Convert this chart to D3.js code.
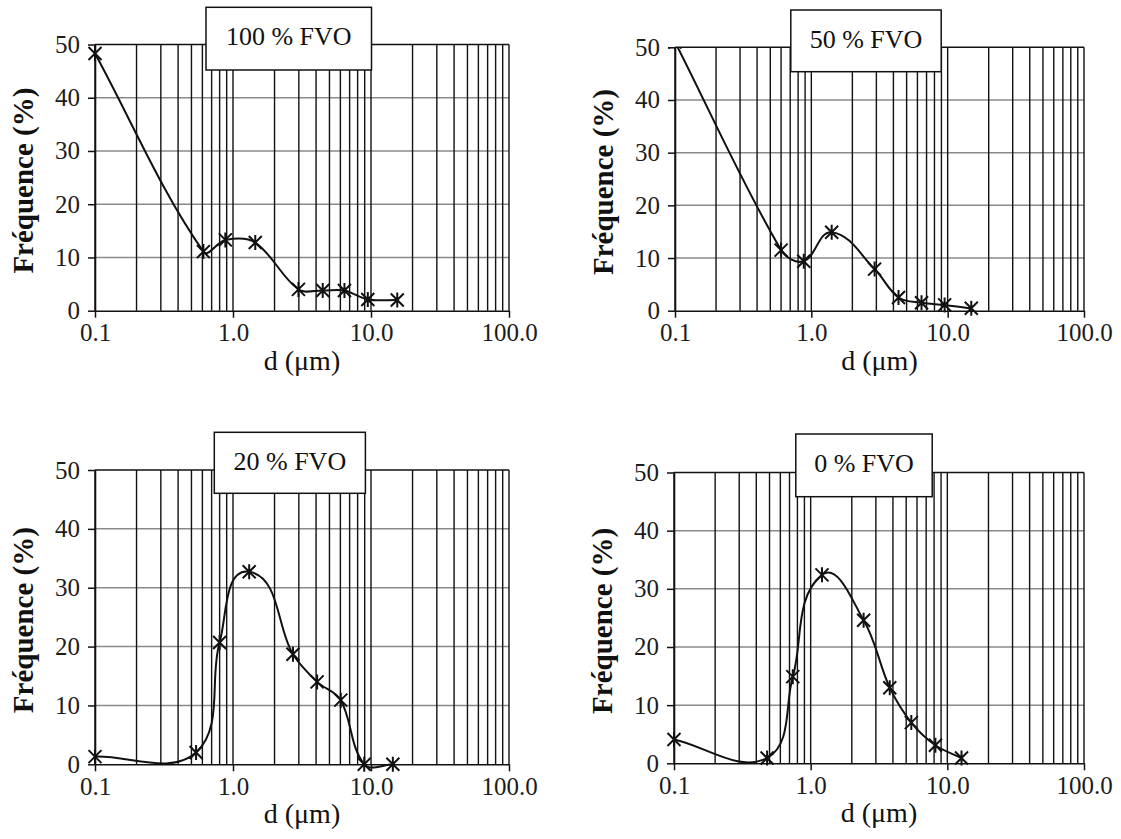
<!DOCTYPE html>
<html>
<head>
<meta charset="utf-8">
<script src="https://cdn.jsdelivr.net/npm/d3@7"></script>
<style>
  html, body { margin: 0; padding: 0; background: #fff; }
  svg { display: block; }
</style>
</head>
<body>
<svg id="chart" width="1121" height="839"></svg>
<script>
// particle size classes (µm) and frequencies (%)
const d100 = [0.1, 0.61, 0.88, 1.45, 2.98, 4.47, 6.42, 9.48, 15.5];
const f100 = [48.3, 11.1, 13.3, 12.8, 4.0, 3.8, 3.8, 2.1, 2.0];

const d50 = [0.1, 0.6, 0.88, 1.41, 2.91, 4.36, 6.43, 9.5, 14.9];
const f50 = [51, 11.5, 9.4, 14.9, 7.9, 2.5, 1.5, 1.1, 0.45];

const d20 = [0.1, 0.54, 0.8, 1.31, 2.72, 4.07, 6.04, 8.93, 14.4];
const f20 = [1.3, 2.0, 20.7, 32.7, 18.7, 14.0, 10.9, 0, 0];

const d0 = [0.1, 0.48, 0.74, 1.21, 2.44, 3.79, 5.45, 8.18, 12.7];
const f0 = [4.1, 0.9, 14.9, 32.4, 24.6, 13.0, 7.0, 3.1, 0.9];

const panelLabels = ["100 % FVO", "50 % FVO", "20 % FVO", "0 % FVO"];
const yTicks = [0, 10, 20, 30, 40, 50];
const xTicks = [0.1, 1, 10, 100];

const FONT = "'Liberation Serif', Tinos, 'Times New Roman', Times, serif";

// layout of each panel: plot area and label box
const panels = [
  { label: panelLabels[0], d: d100, f: f100, left: 95, right: 509, top: 44.5, bottom: 310.7,
    box: [206, 7.3, 165.5, 62.7] },
  { label: panelLabels[1], d: d50, f: f50, left: 675, right: 1084, top: 47.3, bottom: 310.7,
    box: [790.8, 10, 150.4, 61.7] },
  { label: panelLabels[2], d: d20, f: f20, left: 95, right: 509, top: 470, bottom: 764.3,
    box: [214.3, 432.3, 151.1, 61] },
  { label: panelLabels[3], d: d0, f: f0, left: 674, right: 1084, top: 472.5, bottom: 763.3,
    box: [795.8, 434, 136.4, 62.7] }
];

// Spreadsheet-style smoothed line: tangent at each point follows its two
// neighbours, control arms are a third of the segment length.
function SmoothCurve(context) { this._context = context; }
SmoothCurve.prototype = {
  areaStart() {}, areaEnd() {},
  lineStart() { this._pts = []; },
  point(x, y) { this._pts.push([+x, +y]); },
  lineEnd() {
    const p = this._pts, n = p.length, c = this._context;
    if (!n) return;
    const tan = p.map((_, i) => {
      const a = p[Math.max(i - 1, 0)], b = p[Math.min(i + 1, n - 1)];
      const dx = b[0] - a[0], dy = b[1] - a[1], l = Math.hypot(dx, dy) || 1;
      return [dx / l, dy / l];
    });
    c.moveTo(p[0][0], p[0][1]);
    for (let i = 0; i < n - 1; i++) {
      const s = Math.hypot(p[i + 1][0] - p[i][0], p[i + 1][1] - p[i][1]) / 3;
      c.bezierCurveTo(
        p[i][0] + tan[i][0] * s, p[i][1] + tan[i][1] * s,
        p[i + 1][0] - tan[i + 1][0] * s, p[i + 1][1] - tan[i + 1][1] * s,
        p[i + 1][0], p[i + 1][1]);
    }
  }
};
const smoothCurve = ctx => new SmoothCurve(ctx);

const svg = d3.select("#chart").attr("font-family", FONT);

// "star" marker: an X with a vertical bar
const star = "M-6.5,-6.5L6.5,6.5M-6.5,6.5L6.5,-6.5M0,-7.5L0,7.5";

panels.forEach(function (p, i) {
  const x = d3.scaleLog().domain([0.1, 100]).range([p.left, p.right]);
  const y = d3.scaleLinear().domain([0, 50]).range([p.bottom, p.top]);
  const g = svg.append("g");

  // horizontal grid (grey)
  g.append("g")
    .selectAll("line")
    .data(yTicks.slice(1, -1))
    .join("line")
      .attr("x1", p.left).attr("x2", p.right)
      .attr("y1", d => y(d)).attr("y2", d => y(d))
      .attr("stroke", "#8a8a8a")
      .attr("stroke-width", 1.5);

  // vertical grid (black), every 1..9 of each decade
  g.append("g")
    .selectAll("line")
    .data(x.ticks())
    .join("line")
      .attr("x1", d => x(d)).attr("x2", d => x(d))
      .attr("y1", p.top).attr("y2", p.bottom)
      .attr("stroke", "#111")
      .attr("stroke-width", 1.4);

  // top border
  g.append("line")
    .attr("x1", p.left).attr("x2", p.right)
    .attr("y1", p.top).attr("y2", p.top)
    .attr("stroke", "#111").attr("stroke-width", 1.5);

  // axes
  const yAxis = g.append("g")
    .attr("transform", `translate(${p.left},0)`)
    .call(d3.axisLeft(y).tickValues(yTicks).tickSize(7).tickSizeOuter(0).tickPadding(8).tickFormat(d3.format("d")));
  const xAxis = g.append("g")
    .attr("transform", `translate(0,${p.bottom})`)
    .call(d3.axisBottom(x).tickValues(xTicks).tickSize(7).tickSizeOuter(0).tickPadding(6).tickFormat(d3.format(".1f")));

  [yAxis, xAxis].forEach(a => {
    a.attr("font-family", FONT).attr("font-size", 25);
    a.select(".domain").attr("stroke", "#111").attr("stroke-width", 1.6);
    a.selectAll(".tick line").attr("stroke", "#111").attr("stroke-width", 1.5);
    a.selectAll(".tick text").attr("fill", "#1c1c1c");
  });

  // data line and markers, clipped at the top of the plot
  const clipId = "clip" + i;
  g.append("clipPath").attr("id", clipId)
    .append("rect")
      .attr("x", p.left - 10).attr("y", p.top)
      .attr("width", p.right - p.left + 20).attr("height", p.bottom - p.top + 10);

  const pts = p.d.map((d, k) => [d, p.f[k]]);
  const line = d3.line()
    .x(d => x(d[0]))
    .y(d => y(d[1]))
    .curve(smoothCurve);

  const series = g.append("g").attr("clip-path", `url(#${clipId})`);
  series.append("path")
    .datum(pts)
    .attr("d", line)
    .attr("fill", "none")
    .attr("stroke", "#111")
    .attr("stroke-width", 2);

  series.selectAll(".mk")
    .data(pts)
    .join("path")
      .attr("class", "mk")
      .attr("transform", d => `translate(${x(d[0])},${y(d[1])})`)
      .attr("d", star)
      .attr("fill", "none")
      .attr("stroke", "#111")
      .attr("stroke-width", 2);

  // axis titles
  g.append("text")
    .attr("transform", `translate(${p.left - 72},${(p.top + p.bottom) / 2 + 3}) rotate(-90)`)
    .attr("text-anchor", "middle")
    .attr("dominant-baseline", "central")
    .attr("font-weight", "bold")
    .attr("font-size", 29)
    .attr("fill", "#111")
    .text("Fréquence (%)");

  g.append("text")
    .attr("x", (p.left + p.right) / 2)
    .attr("y", p.bottom + 59)
    .attr("text-anchor", "middle")
    .attr("font-size", 28)
    .attr("fill", "#111")
    .text("d (μm)");

  // label box
  const [bx, by, bw, bh] = p.box;
  g.append("rect")
    .attr("x", bx).attr("y", by).attr("width", bw).attr("height", bh)
    .attr("fill", "#fff")
    .attr("stroke", "#111")
    .attr("stroke-width", 1.5);
  g.append("text")
    .attr("x", bx + bw / 2)
    .attr("y", by + 38)
    .attr("text-anchor", "middle")
    .attr("font-size", 26)
    .attr("fill", "#111")
    .text(p.label);
});
</script>
</body>
</html>
